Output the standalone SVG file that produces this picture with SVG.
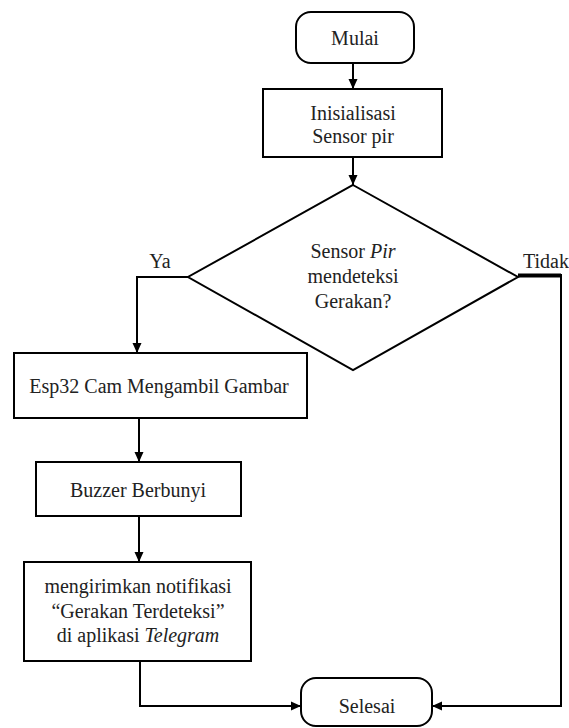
<svg xmlns="http://www.w3.org/2000/svg" width="569" height="728" viewBox="0 0 569 728">
<style>
.s{fill:#fff;stroke:#000;stroke-width:2}
.t{font-family:'Liberation Serif','Times New Roman',Tinos,'DejaVu Serif',serif;font-size:20px;fill:#222;text-anchor:middle}
.c{fill:none;stroke:#000;stroke-width:2}
</style>
<defs>
<marker id="ah" markerUnits="userSpaceOnUse" markerWidth="10" markerHeight="10" refX="10" refY="5" orient="auto">
<path d="M0,0.5 L10,5 L0,9.5 z" fill="#000"/>
</marker>
</defs>
<g id="connectors">
<line class="c" x1="353" y1="63" x2="353" y2="89" marker-end="url(#ah)"/>
<line class="c" x1="353" y1="157" x2="353" y2="185" marker-end="url(#ah)"/>
<polyline class="c" points="188,277 137,277 137,353" marker-end="url(#ah)"/>
<line x1="518" y1="275.5" x2="561" y2="275.5" stroke="#000" stroke-width="4"/>
<polyline class="c" points="561,274 561,706 432,706" marker-end="url(#ah)"/>
<line class="c" x1="139" y1="418" x2="139" y2="462" marker-end="url(#ah)"/>
<line class="c" x1="139" y1="516" x2="139" y2="562" marker-end="url(#ah)"/>
<polyline class="c" points="140,661 140,706 301,706" marker-end="url(#ah)"/>
</g>
<g id="mulai">
<rect class="s" x="296" y="12" width="118" height="51" rx="15"/>
<text class="t" x="355" y="45">Mulai</text>
</g>
<g id="inisialisasi">
<rect class="s" x="263" y="89" width="179" height="68"/>
<text class="t" x="353" y="120">Inisialisasi</text>
<text class="t" x="353" y="143">Sensor pir</text>
</g>
<g id="decision">
<polygon class="s" points="353,185 518,277 353,370 188,277"/>
<text class="t" x="353" y="258">Sensor <tspan font-style="italic">Pir</tspan></text>
<text class="t" x="353" y="283">mendeteksi</text>
<text class="t" x="353" y="308">Gerakan?</text>
<text class="t" x="160" y="268">Ya</text>
<text class="t" x="546" y="268">Tidak</text>
</g>
<g id="esp32">
<rect class="s" x="14" y="353" width="293" height="65"/>
<text class="t" x="159" y="393">Esp32 Cam Mengambil Gambar</text>
</g>
<g id="buzzer">
<rect class="s" x="36" y="462" width="205" height="54"/>
<text class="t" x="138" y="497">Buzzer Berbunyi</text>
</g>
<g id="notifikasi">
<rect class="s" x="24" y="562" width="227" height="99"/>
<text class="t" x="138" y="593">mengirimkan notifikasi</text>
<text class="t" x="138" y="618">“Gerakan Terdeteksi”</text>
<text class="t" x="138" y="642">di aplikasi <tspan font-style="italic">Telegram</tspan></text>
</g>
<g id="selesai">
<rect class="s" x="301" y="678" width="131" height="48" rx="15"/>
<text class="t" x="367" y="713">Selesai</text>
</g>
</svg>
